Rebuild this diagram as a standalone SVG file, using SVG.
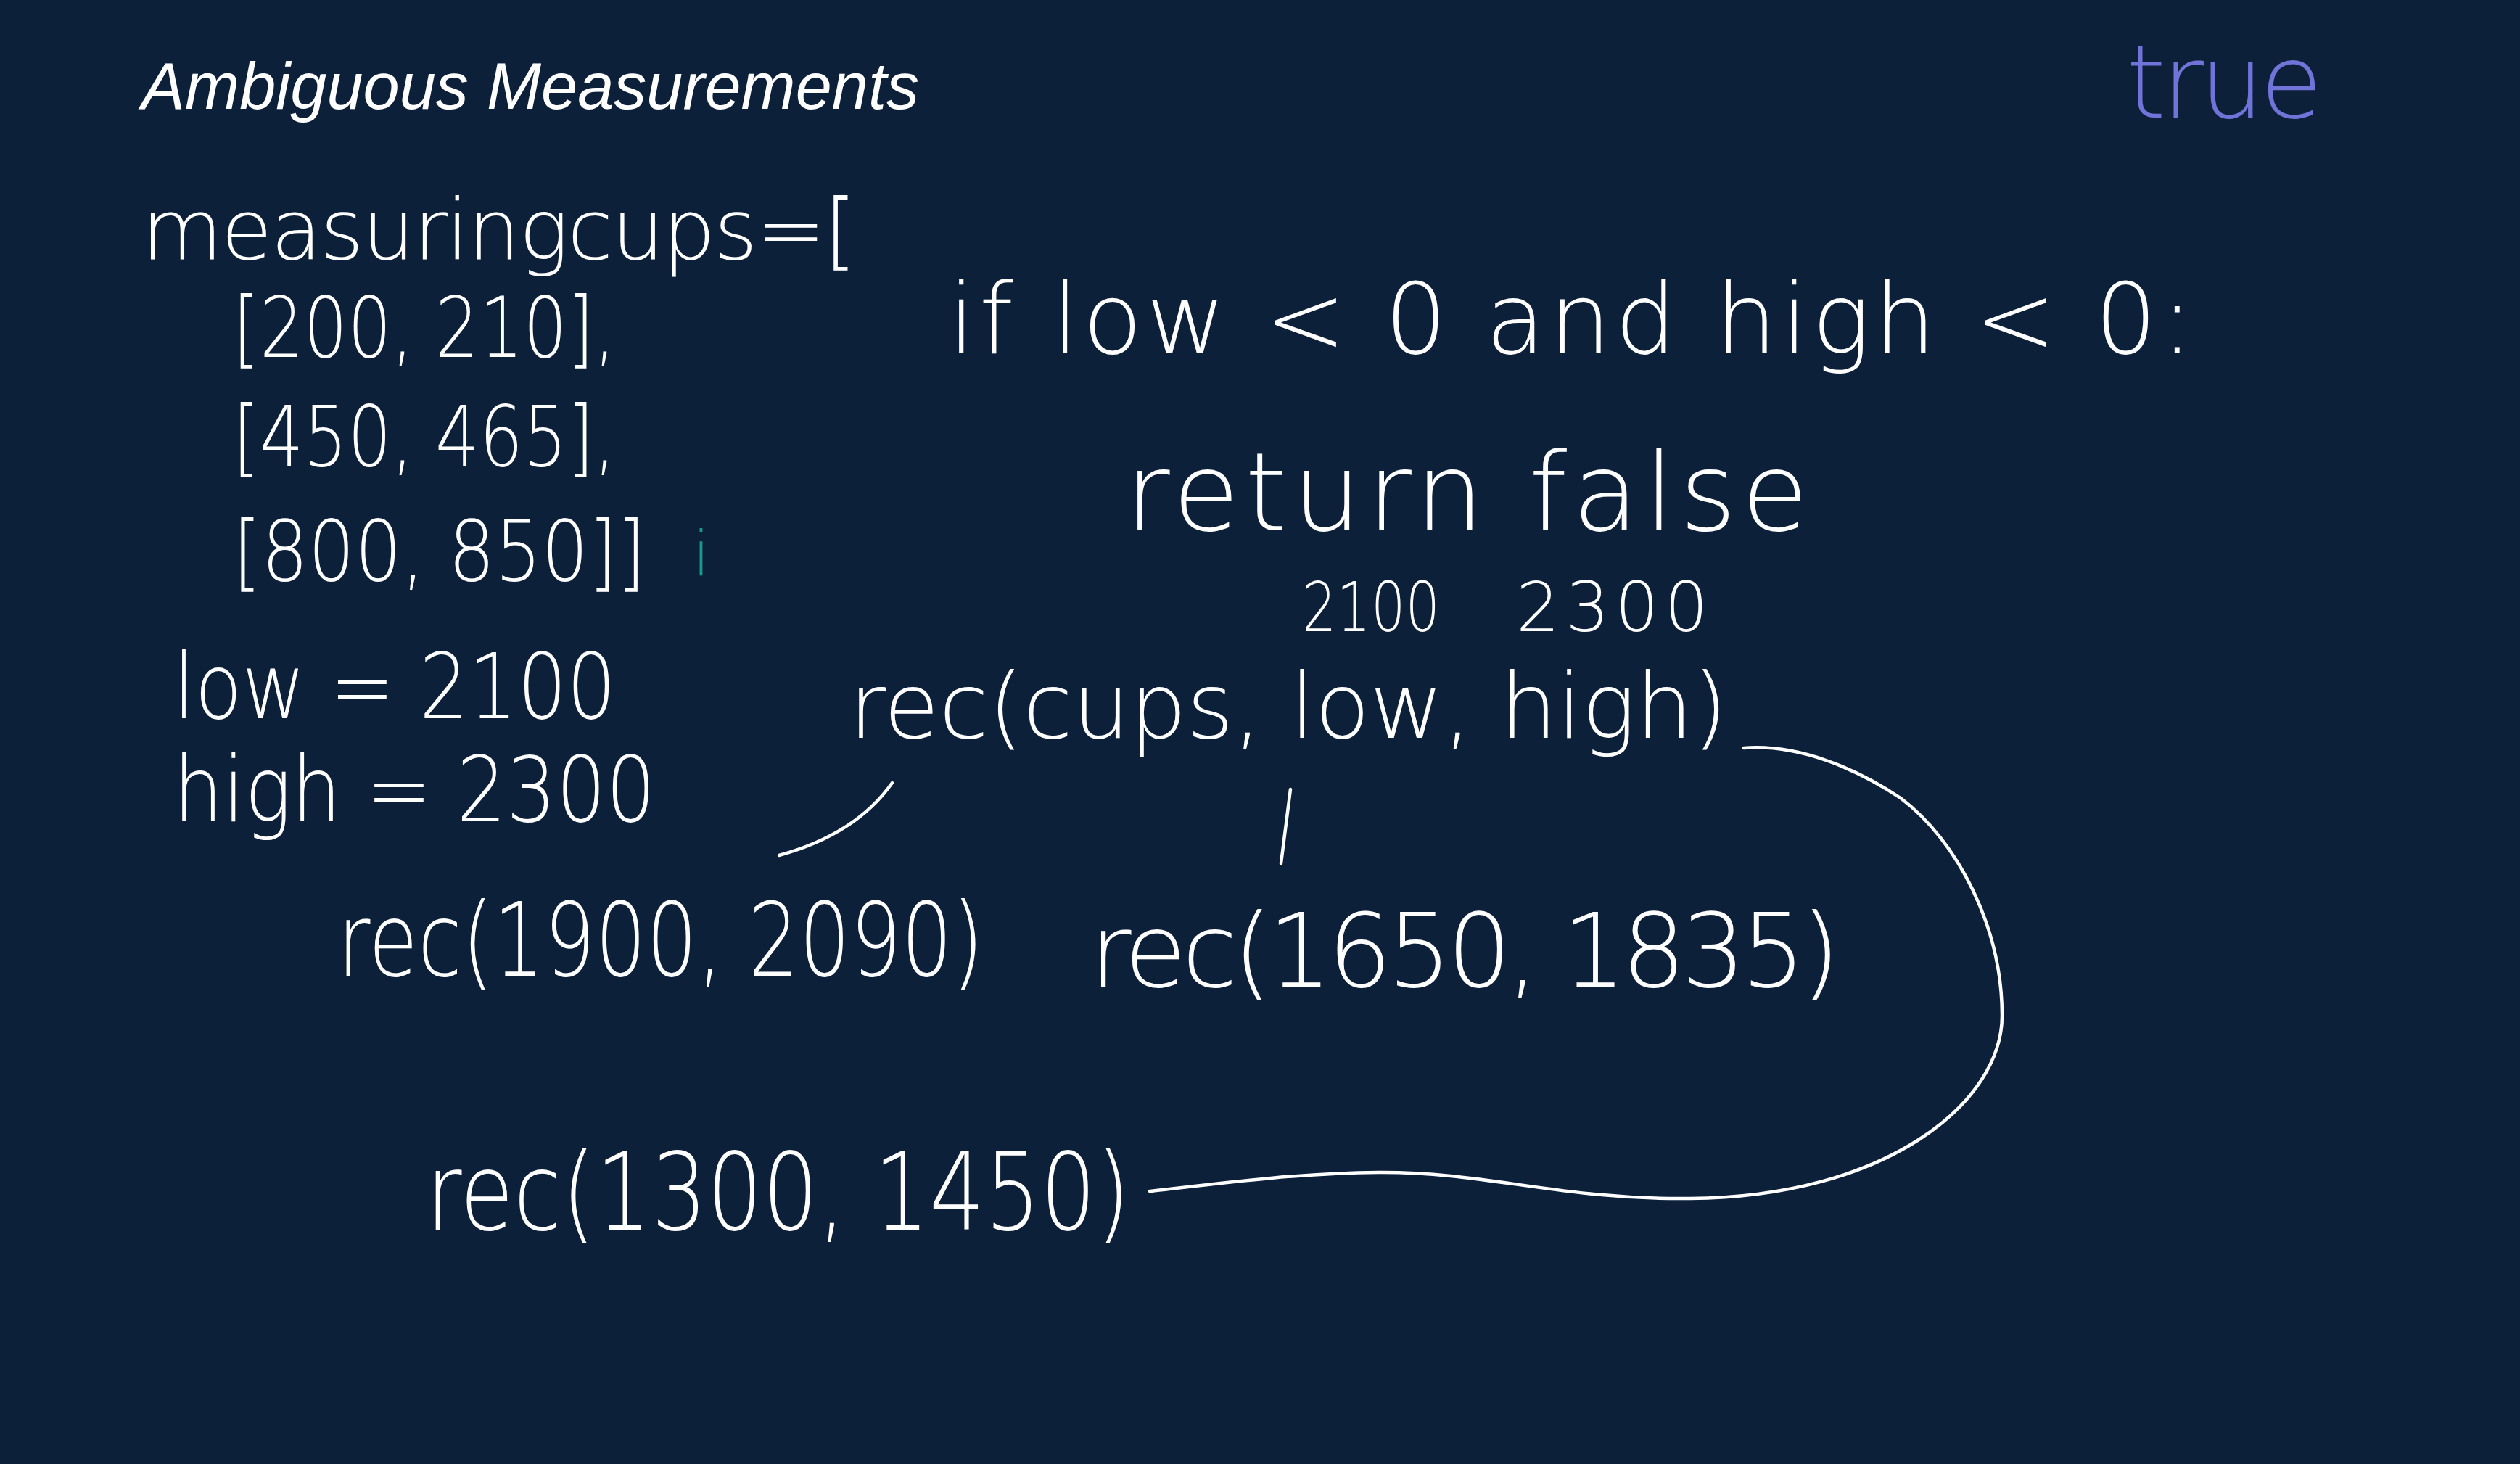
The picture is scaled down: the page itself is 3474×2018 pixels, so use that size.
<svg xmlns="http://www.w3.org/2000/svg" width="3474" height="2018" viewBox="0 0 3474 2018">
<style>
.hw{font-family:"DejaVu Sans","Liberation Sans",sans-serif;font-weight:200;fill:#ffffff}
.title{font-family:"Liberation Sans",Arial,sans-serif;font-style:italic;fill:#ffffff}
.conn{fill:none;stroke:#ffffff;stroke-width:4.5;stroke-linecap:round;stroke-linejoin:round}
</style>
<rect x="0" y="0" width="3474" height="2018" fill="#0c2039"/>
<g id="title"><text class="title" x="195" y="150" font-size="90" textLength="1072" lengthAdjust="spacingAndGlyphs">Ambiguous Measurements</text></g>
<g id="true-label"><text class="hw" x="2931" y="162" font-size="140" style="fill:#7074d8" textLength="271" lengthAdjust="spacing">true</text></g>
<g id="cups-def">
<text class="hw" x="195" y="357" font-size="115" textLength="986" lengthAdjust="spacing">measuringcups=[</text>
<text class="hw" x="321" y="492" font-size="115" textLength="528" lengthAdjust="spacingAndGlyphs">[200, 210],</text>
<text class="hw" x="321" y="642" font-size="115" textLength="528" lengthAdjust="spacingAndGlyphs">[450, 465],</text>
<text class="hw" transform="translate(321,800) scale(0.88,1)" x="0" y="0" font-size="115">[800, 850]]</text>
<text class="hw" x="955" y="793" font-size="85" style="fill:#1a9a8a">i</text>
</g>
<g id="low-high">
<text class="hw" x="239" y="990" font-size="125" textLength="610" lengthAdjust="spacingAndGlyphs">low = 2100</text>
<text class="hw" x="239" y="1132" font-size="125" textLength="665" lengthAdjust="spacingAndGlyphs">high = 2300</text>
</g>
<g id="base-case">
<text class="hw" x="1307" y="487" font-size="135" textLength="1717" lengthAdjust="spacing">if low &lt; 0 and high &lt; 0:</text>
<text class="hw" x="1551" y="731" font-size="150" textLength="942" lengthAdjust="spacing">return false</text>
</g>
<g id="args">
<text class="hw" x="1795" y="870" font-size="95" textLength="190" lengthAdjust="spacingAndGlyphs">2100</text>
<text class="hw" x="2090" y="870" font-size="95" textLength="265" lengthAdjust="spacing">2300</text>
</g>
<g id="rec-root"><text class="hw" x="1170" y="1017" font-size="125" textLength="1212" lengthAdjust="spacing">rec(cups, low, high)</text></g>
<g id="rec-1900"><text class="hw" x="465" y="1345" font-size="140" textLength="891" lengthAdjust="spacingAndGlyphs">rec(1900, 2090)</text></g>
<g id="rec-1650"><text class="hw" x="1502" y="1360" font-size="140" textLength="1035" lengthAdjust="spacing">rec(1650, 1835)</text></g>
<g id="rec-1300"><text class="hw" x="587" y="1695" font-size="148" textLength="971" lengthAdjust="spacingAndGlyphs">rec(1300, 1450)</text></g>
<g id="connectors">
<path class="conn" d="M1230,1079 Q1180,1150 1074,1179"/>
<path class="conn" d="M1779,1088 L1766,1190"/>
<path class="conn" d="M2404,1031 C2480,1025 2560,1060 2620,1100 C2700,1160 2760,1280 2760,1400 C2760,1520 2600,1650 2330,1652 C2150,1654 2050,1615 1900,1616 C1780,1617 1650,1635 1585,1642"/>
</g>
</svg>
